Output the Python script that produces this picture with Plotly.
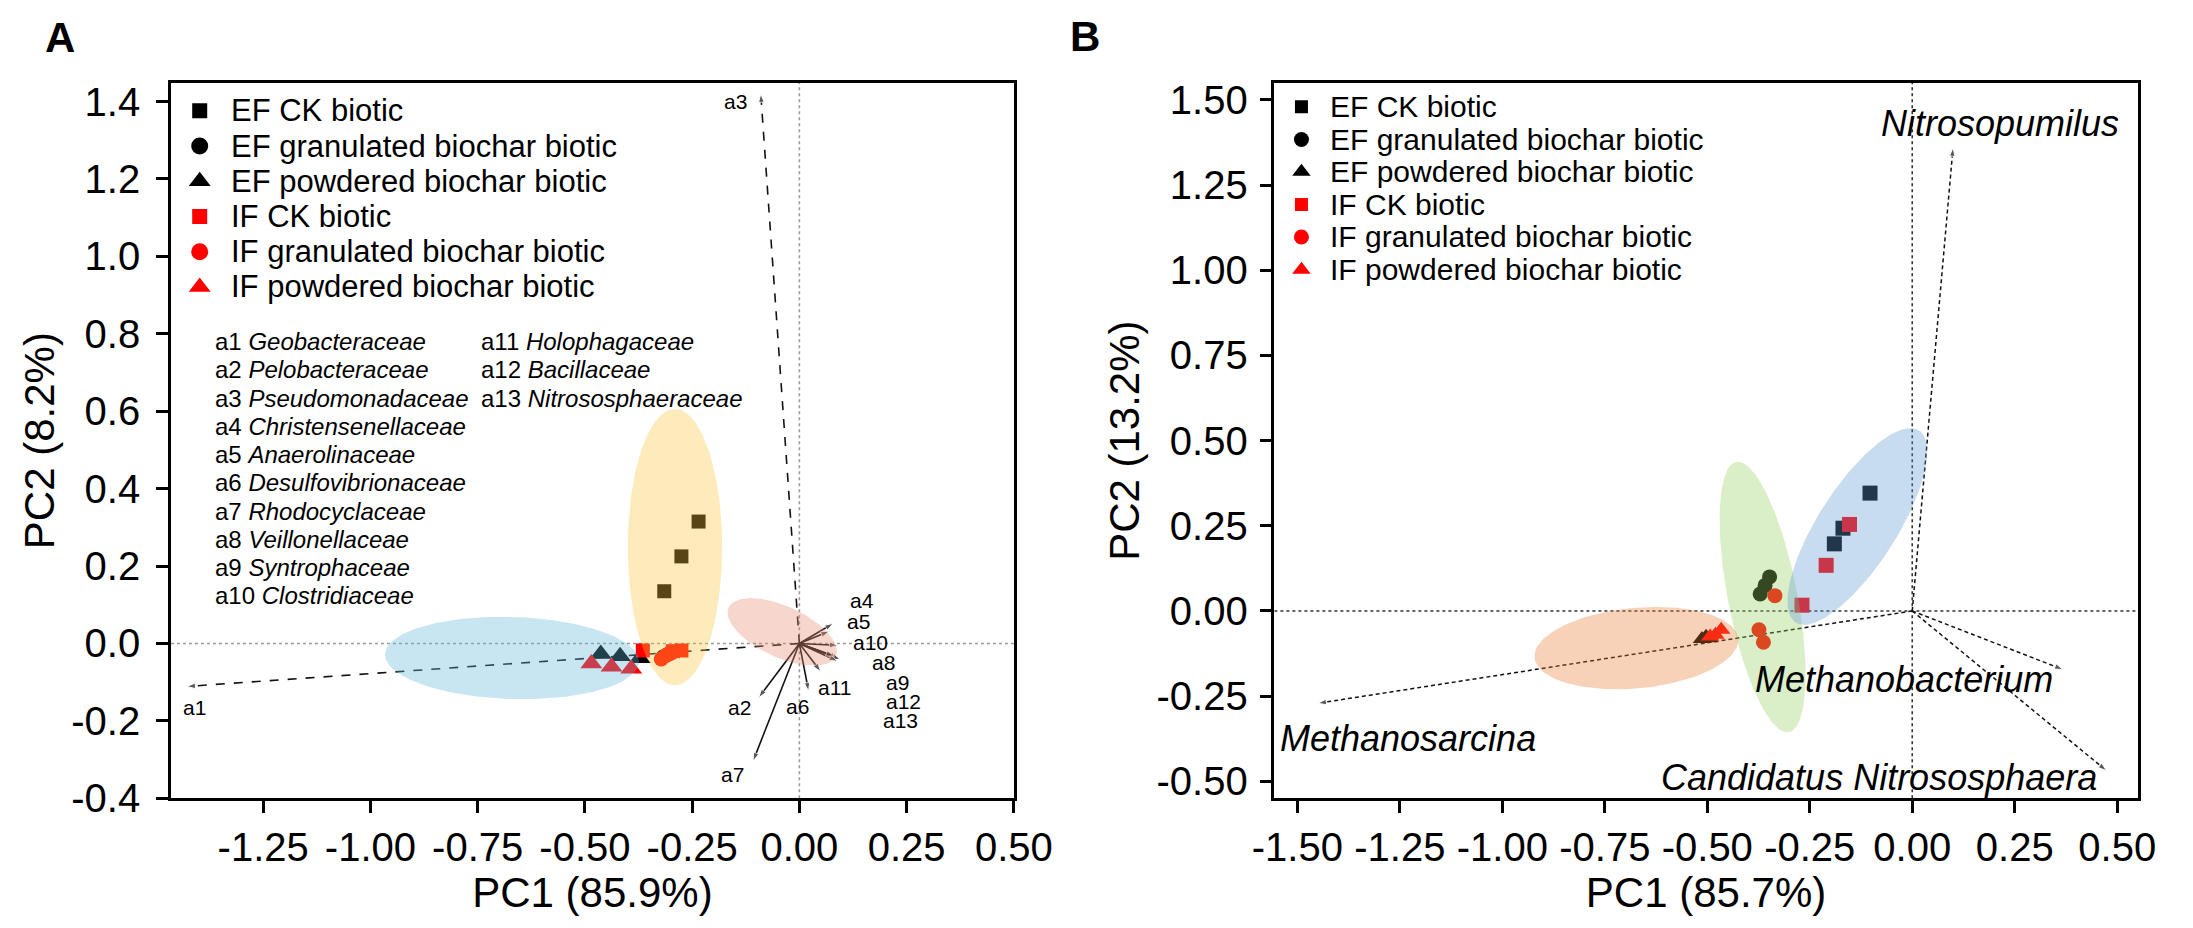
import numpy as np
import plotly.graph_objects as go

FONT = "Liberation Sans, Arial, Helvetica, sans-serif"

# ---------------- Panel A data ----------------
a_groups = ["EF CK biotic", "EF granulated biochar biotic", "EF powdered biochar biotic",
            "IF CK biotic", "IF granulated biochar biotic", "IF powdered biochar biotic"]
a_ef_ck_x = [-0.235, -0.275, -0.315]
a_ef_ck_y = [0.315, 0.225, 0.135]
a_ef_gran_x = [-0.318, -0.305, -0.296]
a_ef_gran_y = [-0.035, -0.027, -0.022]
a_ef_pow_x = [-0.463, -0.418, -0.372]
a_ef_pow_y = [-0.027, -0.033, -0.038]
a_if_ck_x = [-0.365, -0.295, -0.275]
a_if_ck_y = [-0.018, -0.020, -0.018]
a_if_gran_x = [-0.322, -0.310, -0.300]
a_if_gran_y = [-0.040, -0.030, -0.025]
a_if_pow_x = [-0.485, -0.438, -0.392]
a_if_pow_y = [-0.052, -0.060, -0.065]

a_vec_names = ["a1", "a2", "a3", "a4", "a5", "a6", "a7", "a8", "a9", "a10", "a11", "a12", "a13"]
a_vec_x = [-1.428, -0.095, -0.090, 0.079, 0.070, 0.0215, -0.108, 0.093, 0.096, 0.090, 0.050, 0.089, 0.082]
a_vec_y = [-0.111, -0.140, 1.420, 0.052, 0.032, -0.123, -0.304, -0.0375, -0.042, -0.005, -0.073, -0.046, -0.033]
a_families = ["Geobacteraceae", "Pelobacteraceae", "Pseudomonadaceae", "Christensenellaceae",
              "Anaerolinaceae", "Desulfovibrionaceae", "Rhodocyclaceae", "Veillonellaceae",
              "Syntrophaceae", "Clostridiaceae", "Holophagaceae", "Bacillaceae", "Nitrososphaeraceae"]

# ellipses: centre x, centre y, semi-axis a, semi-axis b, angle (deg)
a_ell_blue = [-0.670, -0.0375, 0.296, 0.106, -2]
a_ell_yellow = [-0.290, 0.249, 0.357, 0.110, 90]
a_ell_pink = [-0.040, 0.030, 0.140, 0.065, -28]

a_xticks = [-1.25, -1.00, -0.75, -0.50, -0.25, 0.00, 0.25, 0.50]
a_xticktext = ["-1.25", "-1.00", "-0.75", "-0.50", "-0.25", "0.00", "0.25", "0.50"]
a_yticks = [-0.4, -0.2, 0.0, 0.2, 0.4, 0.6, 0.8, 1.0, 1.2, 1.4]
a_yticktext = ["-0.4", "-0.2", "0.0", "0.2", "0.4", "0.6", "0.8", "1.0", "1.2", "1.4"]

# ---------------- Panel B data ----------------
b_ef_ck_x = [-0.103, -0.169, -0.190]
b_ef_ck_y = [0.346, 0.243, 0.197]
b_if_ck_x = [-0.153, -0.210, -0.269]
b_if_ck_y = [0.254, 0.134, 0.017]
b_ef_gran_x = [-0.348, -0.359, -0.371]
b_ef_gran_y = [0.100, 0.075, 0.050]
b_if_gran_x = [-0.335, -0.374, -0.363]
b_if_gran_y = [0.045, -0.055, -0.092]
b_ef_pow_x = [-0.513, -0.503, -0.495]
b_ef_pow_y = [-0.082, -0.076, -0.080]
b_if_pow_x = [-0.466, -0.493, -0.480]
b_if_pow_y = [-0.055, -0.075, -0.070]

b_vec_names = ["Nitrosopumilus", "Methanobacterium", "Candidatus Nitrososphaera", "Methanosarcina"]
b_vec_x = [0.0995, 0.368, 0.474, -1.450]
b_vec_y = [1.360, -0.172, -0.469, -0.271]

b_ell_blue = [-0.134, 0.248, 0.320, 0.100, 63]
b_ell_green = [-0.365, 0.041, 0.402, 0.085, 99]
b_ell_orange = [-0.673, -0.109, 0.250, 0.118, 7]

b_xticks = [-1.50, -1.25, -1.00, -0.75, -0.50, -0.25, 0.00, 0.25, 0.50]
b_xticktext = ["-1.50", "-1.25", "-1.00", "-0.75", "-0.50", "-0.25", "0.00", "0.25", "0.50"]
b_yticks = [-0.50, -0.25, 0.00, 0.25, 0.50, 0.75, 1.00, 1.25, 1.50]
b_yticktext = ["-0.50", "-0.25", "0.00", "0.25", "0.50", "0.75", "1.00", "1.25", "1.50"]

# ---------------- helpers ----------------
BLACK = "#000000"
RED = "#ff0000"
symbols = ["square", "circle", "triangle-up", "square", "circle", "triangle-up"]
colors = [BLACK, BLACK, BLACK, RED, RED, RED]

fig = go.Figure()


def ellipse_xy(p, n=160):
    cx, cy, a, b, deg = p
    t = np.linspace(0, 2 * np.pi, n)
    th = np.radians(deg)
    x = cx + a * np.cos(t) * np.cos(th) - b * np.sin(t) * np.sin(th)
    y = cy + a * np.cos(t) * np.sin(th) + b * np.sin(t) * np.cos(th)
    return x, y


def add_ellipse(p, rgb, xa, ya, alpha=0.35):
    x, y = ellipse_xy(p)
    fig.add_trace(go.Scatter(x=x, y=y, mode="lines", fill="toself",
                             fillcolor=f"rgba({rgb[0]},{rgb[1]},{rgb[2]},{alpha})",
                             line=dict(width=0), hoverinfo="skip", showlegend=False,
                             xaxis=xa, yaxis=ya))


def add_points(xs, ys, sym, col, size, xa, ya, name):
    fig.add_trace(go.Scatter(x=xs, y=ys, mode="markers", name=name,
                             marker=dict(symbol=sym, color=col, size=size, opacity=1,
                                         line=dict(width=0)),
                             showlegend=False, xaxis=xa, yaxis=ya))


def add_arrow(x1, y1, xa, ya, dash, width, head):
    fig.add_trace(go.Scatter(x=[0, x1], y=[0, y1], mode="lines+markers",
                             line=dict(color="#111111", width=width, dash=dash),
                             marker=dict(symbol=["circle", "arrow"], size=[0, head],
                                         color="#111111", angleref="previous"),
                             hoverinfo="skip", showlegend=False, xaxis=xa, yaxis=ya))


# ---------------- Panel A traces ----------------
for i in range(len(a_vec_x)):
    dash = "dash" if a_vec_names[i] in ("a1", "a3") else "solid"
    add_arrow(a_vec_x[i], a_vec_y[i], "x", "y", dash, 1.6, 9)

a_sets = [(a_ef_ck_x, a_ef_ck_y), (a_ef_gran_x, a_ef_gran_y), (a_ef_pow_x, a_ef_pow_y),
          (a_if_ck_x, a_if_ck_y), (a_if_gran_x, a_if_gran_y), (a_if_pow_x, a_if_pow_y)]
a_sizes = [14, 15, 19, 14, 15, 19]
for (xs, ys), sym, col, sz, nm in zip(a_sets, symbols, colors, a_sizes, a_groups):
    add_points(xs, ys, sym, col, sz, "x", "y", nm)

add_ellipse(a_ell_blue, (98, 184, 218), "x", "y")
add_ellipse(a_ell_yellow, (249, 198, 60), "x", "y")
add_ellipse(a_ell_pink, (232, 138, 112), "x", "y")

# legend markers A
a_leg_y = [1.376, 1.285, 1.194, 1.103, 1.012, 0.921]
fig.add_trace(go.Scatter(x=[-1.398] * 6, y=a_leg_y, mode="markers",
                         marker=dict(symbol=symbols, color=colors, opacity=1,
                                     size=[15, 17, 19, 15, 17, 19], line=dict(width=0)),
                         hoverinfo="skip", showlegend=False, xaxis="x", yaxis="y"))

# ---------------- Panel B traces ----------------
for i in range(len(b_vec_x)):
    add_arrow(b_vec_x[i], b_vec_y[i], "x2", "y2", "4px,3px", 1.5, 9)

b_sets = [(b_ef_ck_x, b_ef_ck_y), (b_ef_gran_x, b_ef_gran_y), (b_ef_pow_x, b_ef_pow_y),
          (b_if_ck_x, b_if_ck_y), (b_if_gran_x, b_if_gran_y), (b_if_pow_x, b_if_pow_y)]
b_sizes = [15, 15, 16, 15, 15, 16]
for (xs, ys), sym, col, sz, nm in zip(b_sets, symbols, colors, b_sizes, a_groups):
    add_points(xs, ys, sym, col, sz, "x2", "y2", nm)

add_ellipse(b_ell_orange, (232, 126, 55), "x2", "y2")
add_ellipse(b_ell_green, (150, 206, 97), "x2", "y2")
add_ellipse(b_ell_blue, (98, 155, 212), "x2", "y2")

b_leg_y = [1.480, 1.384, 1.289, 1.193, 1.098, 1.002]
fig.add_trace(go.Scatter(x=[-1.49] * 6, y=b_leg_y, mode="markers",
                         marker=dict(symbol=symbols, color=colors, opacity=1,
                                     size=[13, 15, 16, 13, 15, 16], line=dict(width=0)),
                         hoverinfo="skip", showlegend=False, xaxis="x2", yaxis="y2"))

# ---------------- annotations ----------------
ann = []
for name, yy in zip(a_groups, a_leg_y):
    ann.append(dict(x=-1.33, y=yy, xref="x", yref="y", text=name, showarrow=False,
                    xanchor="left", yanchor="middle", font=dict(size=31, color="black", family=FONT)))
for name, yy in zip(a_groups, b_leg_y):
    ann.append(dict(x=-1.425, y=yy, xref="x2", yref="y2", text=name, showarrow=False,
                    xanchor="left", yanchor="middle", font=dict(size=30, color="black", family=FONT)))

# family list in panel A
row_step = 0.073
for i, fam in enumerate(a_families):
    if i < 10:
        xx, yy = -1.366, 0.78 - i * row_step
    else:
        xx, yy = -0.747, 0.78 - (i - 10) * row_step
    ann.append(dict(x=xx, y=yy, xref="x", yref="y", text=f"{a_vec_names[i]} <i>{fam}</i>",
                    showarrow=False, xanchor="left", yanchor="middle",
                    font=dict(size=24, color="black", family=FONT)))

# vector labels panel A (tightly stacked as in the original)
a_lab_pos = [(-1.41, -0.165), (-0.14, -0.165), (-0.15, 1.40), (0.146, 0.112), (0.138, 0.056),
             (-0.004, -0.162), (-0.155, -0.338), (0.197, -0.050), (0.228, -0.100),
             (0.166, 0.002), (0.082, -0.114), (0.243, -0.150), (0.236, -0.200)]
for name, (lx, ly) in zip(a_vec_names, a_lab_pos):
    ann.append(dict(x=lx, y=ly, xref="x", yref="y", text=name, showarrow=False,
                    xanchor="center", yanchor="middle",
                    font=dict(size=21, color="black", family=FONT)))

# vector labels panel B
b_lab_pos = [(0.213, 1.431), (-0.02, -0.200), (-0.082, -0.490), (-1.229, -0.373)]
for name, (lx, ly) in zip(b_vec_names, b_lab_pos):
    ann.append(dict(x=lx, y=ly, xref="x2", yref="y2", text=f"<i>{name}</i>", showarrow=False,
                    xanchor="center", yanchor="middle",
                    font=dict(size=36, color="black", family=FONT)))

# panel letters
ann.append(dict(x=31 / 2193, y=1 - 26 / 928, xref="paper", yref="paper", text="<b>A</b>",
                showarrow=False, xanchor="center", yanchor="middle",
                font=dict(size=42, color="black", family=FONT)))
ann.append(dict(x=1085 / 2193, y=1 - 25 / 928, xref="paper", yref="paper", text="<b>B</b>",
                showarrow=False, xanchor="center", yanchor="middle",
                font=dict(size=42, color="black", family=FONT)))

# ---------------- reference lines ----------------
shapes = [
    dict(type="line", xref="x domain", yref="y", x0=0, x1=1, y0=0, y1=0,
         line=dict(color="#9a9a9a", width=1.6, dash="dot"), layer="below"),
    dict(type="line", xref="x", yref="y domain", x0=0, x1=0, y0=0, y1=1,
         line=dict(color="#9a9a9a", width=1.6, dash="dot"), layer="below"),
    dict(type="line", xref="x2 domain", yref="y2", x0=0, x1=1, y0=0, y1=0,
         line=dict(color="#333333", width=1.6, dash="dot"), layer="below"),
    dict(type="line", xref="x2", yref="y2 domain", x0=0, x1=0, y0=0, y1=1,
         line=dict(color="#333333", width=1.6, dash="dot"), layer="below"),
]

axis_common = dict(showline=True, mirror=True, linecolor="black", linewidth=2.5,
                   ticks="outside", ticklen=12, tickwidth=2.5, tickcolor="black",
                   showgrid=False, zeroline=False,
                   tickfont=dict(size=40, color="black", family=FONT))

top_y = 1 - 73 / 928
bot_y = 1 - 809 / 928

fig.update_layout(
    width=2193, height=928,
    margin=dict(l=0, r=0, t=0, b=0),
    paper_bgcolor="white", plot_bgcolor="white",
    font=dict(family=FONT, color="black"),
    showlegend=False,
    xaxis=dict(domain=[145 / 2193, 1012 / 2193], range=[-1.465, 0.50], anchor="y",
               tickmode="array", tickvals=a_xticks, ticktext=a_xticktext,
               title=dict(text="PC1 (85.9%)", font=dict(size=42, family=FONT), standoff=6),
               **axis_common),
    yaxis=dict(domain=[bot_y, top_y], range=[-0.40, 1.448], anchor="x",
               tickmode="array", tickvals=a_yticks, ticktext=a_yticktext,
               ticklabelstandoff=8,
               title=dict(text="PC2 (8.2%)", font=dict(size=42, family=FONT), standoff=4),
               **axis_common),
    xaxis2=dict(domain=[1280 / 2193, 2168 / 2193], range=[-1.556, 0.55], anchor="y2",
                tickmode="array", tickvals=b_xticks, ticktext=b_xticktext,
                title=dict(text="PC1 (85.7%)", font=dict(size=42, family=FONT), standoff=6),
                **axis_common),
    yaxis2=dict(domain=[bot_y, top_y], range=[-0.55, 1.55], anchor="x2",
                tickmode="array", tickvals=b_yticks, ticktext=b_yticktext,
                ticklabelstandoff=4,
                title=dict(text="PC2 (13.2%)", font=dict(size=42, family=FONT), standoff=4),
                **axis_common),
    annotations=ann,
    shapes=shapes,
)

fig.write_html("out.html")
